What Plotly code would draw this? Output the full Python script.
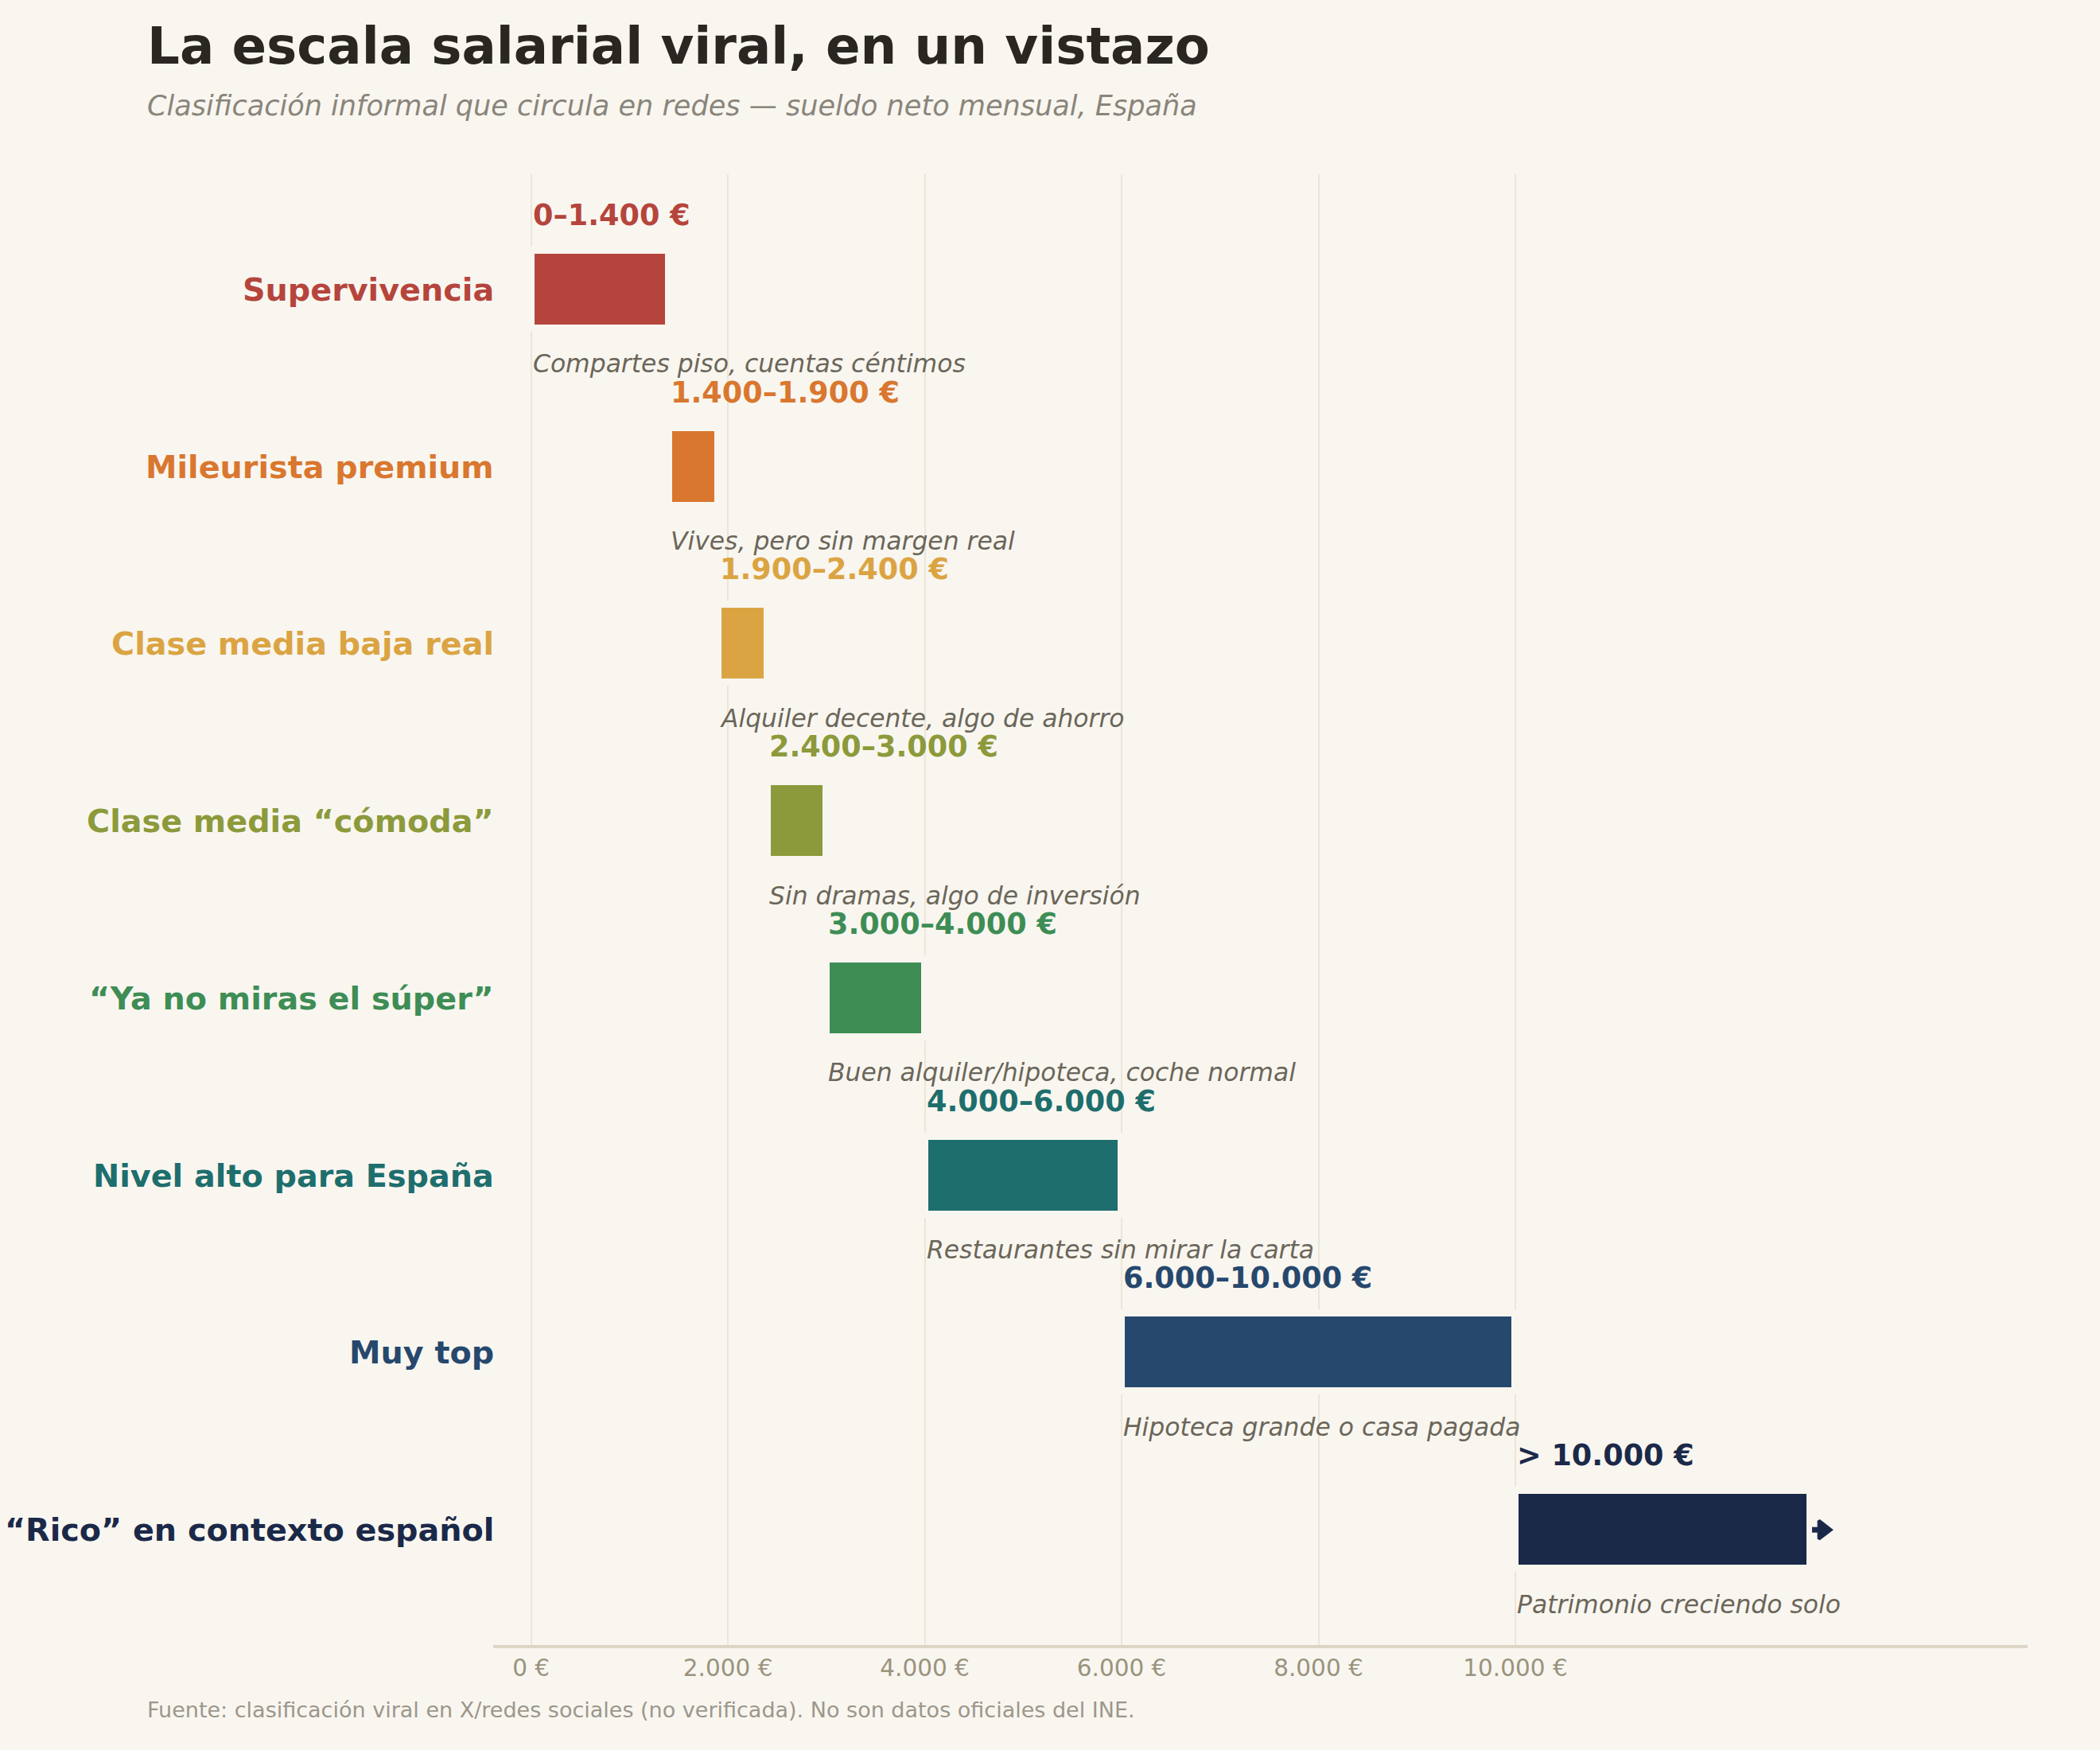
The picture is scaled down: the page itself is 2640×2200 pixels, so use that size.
import plotly.graph_objects as go

# ---- data ----
categories = [
    "Supervivencia",
    "Mileurista premium",
    "Clase media baja real",
    "Clase media “cómoda”",
    "“Ya no miras el súper”",
    "Nivel alto para España",
    "Muy top",
    "“Rico” en contexto español",
]
range_starts = [0, 1400, 1900, 2400, 3000, 4000, 6000, 10000]
range_ends = [1400, 1900, 2400, 3000, 4000, 6000, 10000, 13000]
range_labels = [
    "0–1.400 €",
    "1.400–1.900 €",
    "1.900–2.400 €",
    "2.400–3.000 €",
    "3.000–4.000 €",
    "4.000–6.000 €",
    "6.000–10.000 €",
    "> 10.000 €",
]
notes = [
    "Compartes piso, cuentas céntimos",
    "Vives, pero sin margen real",
    "Alquiler decente, algo de ahorro",
    "Sin dramas, algo de inversión",
    "Buen alquiler/hipoteca, coche normal",
    "Restaurantes sin mirar la carta",
    "Hipoteca grande o casa pagada",
    "Patrimonio creciendo solo",
]
colors = [
    "#B5453C", "#D9772F", "#DBA443", "#8C9A3B",
    "#3E8D55", "#1E6E6D", "#26486D", "#1B2949",
]
tick_values = [0, 2000, 4000, 6000, 8000, 10000]
tick_labels = ["0 €", "2.000 €", "4.000 €", "6.000 €", "8.000 €", "10.000 €"]

title = "La escala salarial viral, en un vistazo"
subtitle = "Clasificación informal que circula en redes — sueldo neto mensual, España"
source = "Fuente: clasificación viral en X/redes sociales (no verificada). No son datos oficiales del INE."

# ---- style ----
BG = "#F9F6F0"
FONT = "DejaVu Sans"
W, H = 2640, 2200
ML, MR, MT, MB = 620, 91, 219, 132
PW, PH = W - ML - MR, H - MT - MB


def px_x(p):
    return (p - ML) / PW


def px_y(p):
    return 1 - (p - MT) / PH


rows = list(range(len(categories)))

fig = go.Figure()
fig.add_trace(go.Bar(
    y=rows,
    x=[e - s for s, e in zip(range_starts, range_ends)],
    base=range_starts,
    orientation="h",
    width=0.44,
    marker=dict(color=colors, line=dict(color=BG, width=9)),
    hoverinfo="skip",
    showlegend=False,
))

# arrow after the open-ended last bar
last = len(categories) - 1
fig.add_trace(go.Scatter(
    x=[range_ends[last] + 15, range_ends[last] + 115],
    y=[last, last],
    mode="lines",
    line=dict(color=colors[last], width=7),
    hoverinfo="skip",
    showlegend=False,
))
fig.add_trace(go.Scatter(
    x=[range_ends[last] + 125],
    y=[last],
    mode="markers",
    marker=dict(symbol="triangle-right", size=20, color=colors[last],
                line=dict(color=colors[last], width=4)),
    hoverinfo="skip",
    showlegend=False,
))

annotations = []
for i in rows:
    annotations.append(dict(
        x=0, xref="paper", y=i, yref="y", xanchor="right", yanchor="middle",
        xshift=3,
        text=categories[i], showarrow=False,
        font=dict(family=FONT, size=39.7, color=colors[i], weight="bold"),
    ))
    annotations.append(dict(
        x=range_starts[i], xref="x", y=i - 0.42, yref="y",
        xanchor="left", yanchor="middle",
        text=range_labels[i], showarrow=False,
        font=dict(family=FONT, size=36.6, color=colors[i], weight="bold"),
    ))
    annotations.append(dict(
        x=range_starts[i], xref="x", y=i + 0.42, yref="y",
        xanchor="left", yanchor="middle",
        text=notes[i], showarrow=False,
        font=dict(family=FONT, size=31.4, color="#6B6659", style="italic"),
    ))

annotations += [
    dict(x=px_x(183), xref="paper", y=px_y(57), yref="paper",
         xanchor="left", yanchor="middle", text=title, showarrow=False,
         font=dict(family=FONT, size=64.2, color="#2A2722", weight="bold")),
    dict(x=px_x(183), xref="paper", y=px_y(133), yref="paper",
         xanchor="left", yanchor="middle", text=subtitle, showarrow=False,
         font=dict(family=FONT, size=35.1, color="#8A857A", style="italic")),
    dict(x=px_x(183), xref="paper", y=px_y(2149), yref="paper",
         xanchor="left", yanchor="middle", text=source, showarrow=False,
         font=dict(family=FONT, size=27, color="#9C978B")),
]

fig.update_layout(
    width=W, height=H,
    margin=dict(l=ML, r=MR, t=MT, b=MB, pad=0),
    paper_bgcolor=BG, plot_bgcolor=BG,
    annotations=annotations,
    bargap=0,
    xaxis=dict(
        range=[-385, 15205],
        tickvals=tick_values, ticktext=tick_labels,
        showgrid=True, gridcolor="#EBE6DA", gridwidth=2,
        zeroline=False,
        showline=True, linecolor="#DDD5C5", linewidth=4,
        ticks="", ticklabelstandoff=0,
        tickfont=dict(family=FONT, size=29.5, color="#9A937D"),
        fixedrange=True,
    ),
    yaxis=dict(
        range=[len(categories) - 0.35, -0.65],
        showgrid=False, zeroline=False, showline=False,
        showticklabels=False, ticks="",
        fixedrange=True,
    ),
)

fig.write_html(
    "out.html",
    config={"displayModeBar": False},
    post_script="document.body.style.margin='0';document.body.style.background='%s';" % BG,
)
